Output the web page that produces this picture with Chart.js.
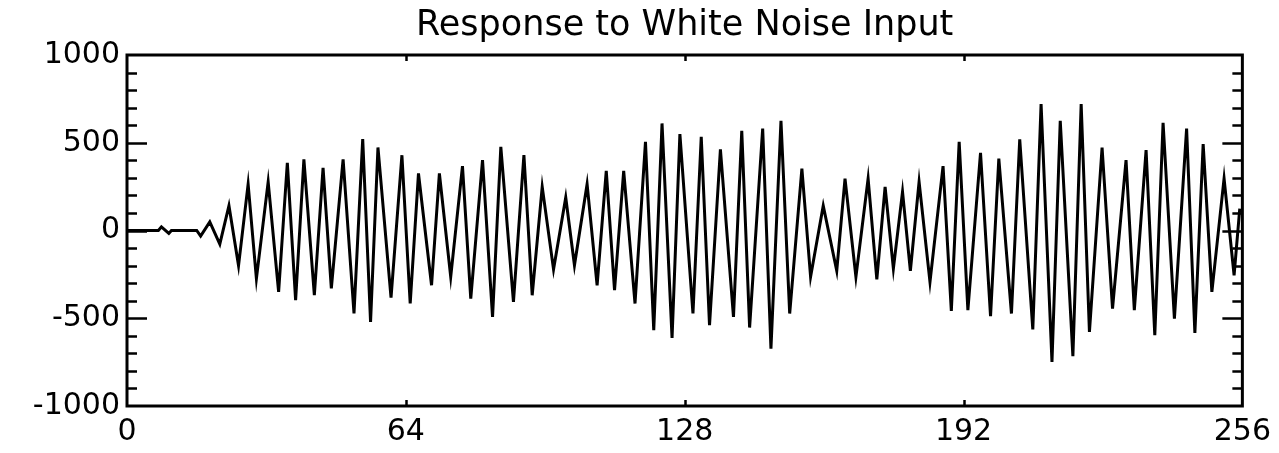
<!DOCTYPE html>
<html>
<head>
<meta charset="utf-8">
<script src="https://cdn.jsdelivr.net/npm/chart.js@4/dist/chart.umd.min.js"></script>
<style>
  html, body { margin: 0; padding: 0; background: #fff; }
  #wrap { width: 1279px; height: 453px; }
</style>
</head>
<body>
<div id="wrap"><canvas id="responseChart"></canvas></div>
<script>
// Turning points of the response (sample index, amplitude)
const sampleIdx = [
    0, 7.2, 7.9, 9.6, 10.2, 16.0, 16.9, 19.0, 21.3, 23.4,
    25.6, 27.8, 29.7, 32.4, 34.8, 36.8, 38.7, 40.6, 43.0, 45.0,
    46.9, 49.6, 52.1, 54.1, 55.9, 57.6, 60.6, 63.1, 65.0, 66.9,
    69.9, 71.7, 74.3, 77.0, 78.9, 81.6, 83.9, 85.8, 88.7, 91.1,
    93.0, 95.3, 97.9, 100.7, 102.7, 105.6, 107.9, 110.0, 111.9, 114.0,
    116.6, 119.0, 120.9, 122.8, 125.1, 126.9, 129.9, 131.8, 133.7, 136.2,
    139.2, 141.1, 142.9, 145.9, 147.8, 150.1, 152.1, 154.9, 156.9, 159.8,
    162.9, 164.8, 167.3, 170.1, 172.1, 174.0, 175.9, 178.0, 179.8, 181.8,
    184.3, 187.3, 189.2, 191.0, 193.0, 195.9, 198.2, 200.1, 203.0, 204.9,
    207.9, 209.8, 212.3, 214.2, 217.1, 219.0, 220.9, 223.8, 226.2, 229.3,
    231.2, 233.9, 235.9, 237.8, 240.4, 243.2, 245.1, 247.0, 249.0, 251.8,
    254.1, 255.4
];
const response = [
    0, 0, 21, -17, 0, 0, -32, 49, -78, 141,
    -200, 264, -274, 277, -350, 386, -397, 405, -369, 357,
    -330, 405, -473, 521, -521, 473, -382, 429, -416, 325,
    -312, 325, -264, 367, -388, 401, -492, 477, -407, 429,
    -369, 249, -222, 188, -198, 264, -312, 340, -340, 340,
    -416, 505, -568, 610, -612, 549, -473, 534, -540, 462,
    -492, 568, -553, 581, -673, 625, -473, 353, -264, 141,
    -230, 296, -264, 296, -279, 249, -217, 220, -230, 277,
    -293, 367, -458, 505, -454, 443, -488, 410, -473, 519,
    -564, 720, -749, 625, -716, 720, -578, 473, -445, 401,
    -454, 458, -597, 614, -502, 581, -583, 492, -350, 296,
    -255, 125
];

const xTicks = [0, 64, 128, 192, 256];
const yTicks = [-1000, -500, 0, 500, 1000];

const axisFont = { family: 'DejaVu Sans', size: 30 };

// Box frame plus inward tick marks on all four sides (IDL style)
const frameTicks = {
    id: 'frameTicks',
    afterDatasetsDraw(chart) {
        const { ctx, chartArea: a, scales: { x, y } } = chart;
        ctx.save();
        ctx.strokeStyle = '#000';
        ctx.lineWidth = 3;
        ctx.strokeRect(a.left, a.top, a.right - a.left, a.bottom - a.top);
        ctx.lineWidth = 2.5;
        ctx.beginPath();
        for (let v = -900; v <= 900; v += 100) {
            const py = Math.round(y.getPixelForValue(v)) + 0.5;
            const len = v % 500 === 0 ? 20 : 10;
            ctx.moveTo(a.left, py);
            ctx.lineTo(a.left + len, py);
            ctx.moveTo(a.right, py);
            ctx.lineTo(a.right - len, py);
        }
        xTicks.slice(1, -1).forEach(v => {
            const px = Math.round(x.getPixelForValue(v)) + 0.5;
            ctx.moveTo(px, a.bottom);
            ctx.lineTo(px, a.bottom - 6);
            ctx.moveTo(px, a.top);
            ctx.lineTo(px, a.top + 6);
        });
        ctx.stroke();
        ctx.restore();
    }
};

new Chart(document.getElementById('responseChart'), {
    type: 'line',
    data: {
        datasets: [{
            data: sampleIdx.map((t, i) => ({ x: t, y: response[i] })),
            borderColor: '#000',
            borderWidth: 3,
            pointRadius: 0,
            tension: 0,
            fill: false
        }]
    },
    options: {
        responsive: true,
        maintainAspectRatio: false,
        animation: false,
        layout: {
            padding: { left: 0, right: 34, top: 0, bottom: 0 }
        },
        plugins: {
            legend: { display: false },
            tooltip: { enabled: false },
            title: {
                display: true,
                fullSize: false,
                text: 'Response to White Noise Input',
                color: '#000',
                font: { family: 'DejaVu Sans', size: 35, weight: 'normal' },
                padding: { top: 5, bottom: 8 }
            }
        },
        scales: {
            x: {
                type: 'linear',
                min: 0,
                max: 256,
                afterBuildTicks: s => { s.ticks = xTicks.map(v => ({ value: v })); },
                afterFit: s => { s.height = 47; },
                grid: { display: false, drawTicks: false },
                border: { display: false },
                ticks: {
                    color: '#000',
                    font: axisFont,
                    padding: 8,
                    maxRotation: 0,
                    autoSkip: false
                }
            },
            y: {
                min: -1000,
                max: 1000,
                afterBuildTicks: s => { s.ticks = yTicks.map(v => ({ value: v })); },
                afterFit: s => { s.width = 127; },
                grid: { display: false, drawTicks: false },
                border: { display: false },
                ticks: {
                    color: '#000',
                    font: axisFont,
                    padding: 7,
                    callback: v => String(v)
                }
            }
        }
    },
    plugins: [frameTicks]
});
</script>
</body>
</html>
